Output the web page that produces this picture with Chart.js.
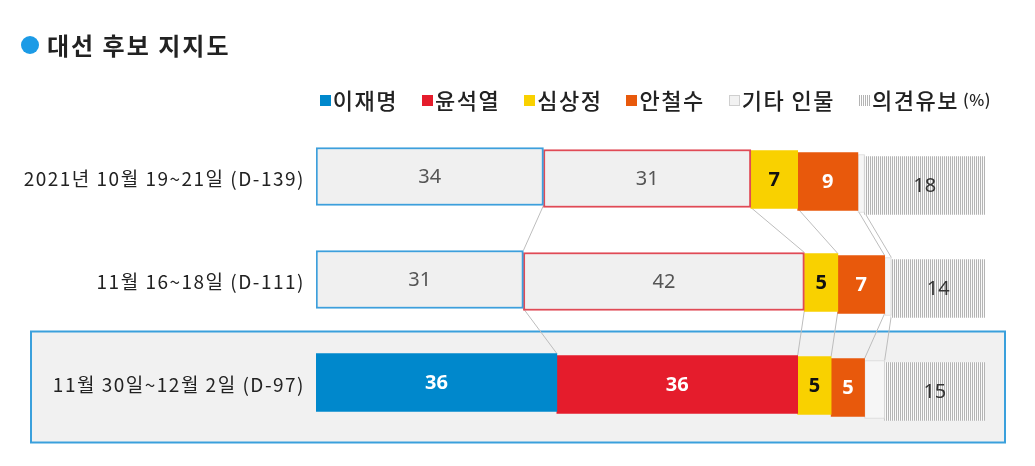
<!DOCTYPE html>
<html><head><meta charset="utf-8">
<script src="https://cdn.jsdelivr.net/npm/chart.js@4"></script>
<style>
html,body{margin:0;padding:0;background:#fff;width:1035px;height:466px;overflow:hidden;font-family:"Noto Sans CJK KR","Noto Sans",sans-serif;}
#wrap{position:relative;width:1035px;height:466px;}
canvas{position:absolute;left:0;top:0;}
#title{position:absolute;left:21px;top:27px;font-size:24px;font-weight:700;color:#222;display:flex;align-items:center;letter-spacing:2px;}
#title .dot{display:inline-block;width:18px;height:18px;border-radius:50%;background:#1c9be6;margin-right:8px;}
#legend{position:absolute;right:44px;top:83px;display:flex;align-items:center;font-size:22px;font-weight:500;color:#222;letter-spacing:1.5px;}
#legend .it{display:flex;align-items:center;margin-left:24px;}
#legend .mk{display:inline-block;width:11px;height:11px;margin-right:2px;margin-top:3px;}
#legend .pc{font-size:16px;margin-left:4px;letter-spacing:0.5px;}
</style></head>
<body><div id="wrap">
<canvas id="c" width="1035" height="466"></canvas>
<div id="title"><span class="dot"></span>대선 후보 지지도</div>
<div id="legend"></div>
</div>
<script>
const categories = ['2021년 10월 19~21일 (D-139)', '11월 16~18일 (D-111)', '11월 30일~12월 2일 (D-97)'];
const seriesNames = ['이재명', '윤석열', '심상정', '안철수', '기타 인물', '의견유보'];
const lee = [34, 31, 36];
const yoon = [31, 42, 36];
const sim = [7, 5, 5];
const ahn = [9, 7, 5];
const other = [1, 1, 3];
const undecided = [18, 14, 15];

// stripe pattern
const pc = document.createElement('canvas'); pc.width = 2; pc.height = 4;
const pctx = pc.getContext('2d');
pctx.fillStyle = '#fafafa'; pctx.fillRect(0,0,2,4);
pctx.fillStyle = '#b4b4b4'; pctx.fillRect(0,0,1,4);
const ctx = document.getElementById('c').getContext('2d');
const stripe = ctx.createPattern(pc, 'repeat');

// legend
const legendDefs = [
  {bg:'#0088cc'}, {bg:'#e51c2c'}, {bg:'#f9d100'}, {bg:'#e8590c'},
  {bg:'#f2f2f2', bd:'#cfcfcf'}, {stripe:true}
];
const lg = document.getElementById('legend');
seriesNames.forEach((n,i)=>{
  const d = legendDefs[i];
  const it = document.createElement('span'); it.className='it';
  const mk = document.createElement('span'); mk.className='mk';
  if (d.stripe) mk.style.background = 'repeating-linear-gradient(90deg,#b4b4b4 0 1px,#fff 1px 2px)';
  else { mk.style.background = d.bg; if (d.bd) { mk.style.border='1px solid '+d.bd; mk.style.width='9px'; mk.style.height='9px'; } }
  it.appendChild(mk);
  it.appendChild(document.createTextNode(n));
  if (i === seriesNames.length-1) { const p=document.createElement('span'); p.className='pc'; p.textContent='(%)'; it.appendChild(p); }
  lg.appendChild(it);
});

const offsets = [0, 2, 3, 5, 7, 9];

const datasets = [
  {label:seriesNames[0], data:lee, backgroundColor:['#f0f0f0','#f0f0f0','#0088cc'], borderColor:['#3d9fdc','#3d9fdc','#0088cc'], borderWidth:[2,2,0],
   lblColor:['#555','#555','#fff'], lblWeight:['400','400','700']},
  {label:seriesNames[1], data:yoon, backgroundColor:['#f0f0f0','#f0f0f0','#e51c2c'], borderColor:['#e04a55','#e04a55','#e51c2c'], borderWidth:[2,2,0],
   lblColor:['#555','#555','#fff'], lblWeight:['400','400','700']},
  {label:seriesNames[2], data:sim, backgroundColor:'#f9d100', borderWidth:0, lblColor:['#111','#111','#111'], lblWeight:['700','700','700']},
  {label:seriesNames[3], data:ahn, backgroundColor:'#e8590c', borderWidth:0, lblColor:['#fff','#fff','#fff'], lblWeight:['700','700','700']},
  {label:seriesNames[4], data:other, backgroundColor:'#f6f6f6', borderColor:'#d8d8d8', borderWidth:1, noLabel:true},
  {label:seriesNames[5], data:undecided, backgroundColor:stripe, borderWidth:0, lblColor:['#333','#333','#333'], lblWeight:['400','400','400']}
];
datasets.forEach(d=>{ d.borderSkipped=false; d.barThickness=58; });

const bgPlugin = {
  id:'bgbox',
  beforeDraw(chart){
    const c = chart.ctx; const y = chart.scales.y;
    const cy = y.getPixelForValue(2);
    c.save();
    c.fillStyle = '#f1f1f1'; c.strokeStyle = '#3aa0dc'; c.lineWidth = 2;
    c.fillRect(31, cy-51, 974, 111);
    c.strokeRect(31, cy-51, 974, 111);
    c.restore();
  },
  beforeDatasetsDraw(chart){
    const c = chart.ctx;
    c.save();
    c.strokeStyle = '#bdbdbd'; c.lineWidth = 1;
    for (let di=0; di<chart.data.datasets.length-1; di++){
      const meta = chart.getDatasetMeta(di);
      for (let r=0; r<meta.data.length-1; r++){
        const a = meta.data[r], b = meta.data[r+1];
        const off = offsets[di];
        c.beginPath();
        c.moveTo(a.x, a.y + a.height/2 + off);
        c.lineTo(b.x, b.y - b.height/2 + off);
        c.stroke();
      }
    }
    c.restore();
  },
  beforeDatasetDraw(chart, args){
    chart.ctx.save();
    chart.ctx.translate(0, offsets[args.index]);
  },
  afterDatasetDraw(chart, args){
    chart.ctx.restore();
  },
  afterDatasetsDraw(chart){
    const c = chart.ctx;
    c.save();
    c.textAlign='center'; c.textBaseline='middle';
    chart.data.datasets.forEach((ds,di)=>{
      if (ds.noLabel) return;
      const meta = chart.getDatasetMeta(di);
      meta.data.forEach((el,r)=>{
        const v = ds.data[r];
        const cx = (el.x + el.base)/2;
        c.font = ds.lblWeight[r] + ' 20px "Noto Sans", "Noto Sans CJK KR", sans-serif';
        c.fillStyle = ds.lblColor[r];
        c.fillText(String(v), cx, el.y + offsets[di] + 1);
      });
    });
    // category labels
    const y = chart.scales.y;
    c.textAlign='right';
    c.font = '19px "Noto Sans CJK KR","Noto Sans",sans-serif';
    c.fillStyle = '#222';
    if ('letterSpacing' in c) c.letterSpacing = '1.5px';
    chart.data.labels.forEach((lab,i)=>{
      c.fillText(lab, 305, y.getPixelForValue(i) + 2);
    });
    c.restore();
  }
};

new Chart(ctx, {
  type:'bar',
  data:{labels:categories, datasets},
  options:{
    indexAxis:'y', responsive:false, animation:false,
    layout:{padding:{top:125, bottom:32, right:50, left:0}},
    plugins:{legend:{display:false}, tooltip:{enabled:false}},
    scales:{
      x:{stacked:true, min:0, max:100, display:false},
      y:{stacked:true, grid:{display:false}, border:{display:false},
         afterFit(s){ s.width = 316; },
         ticks:{display:false}}
    }
  },
  plugins:[bgPlugin]
});
</script>
</body></html>
